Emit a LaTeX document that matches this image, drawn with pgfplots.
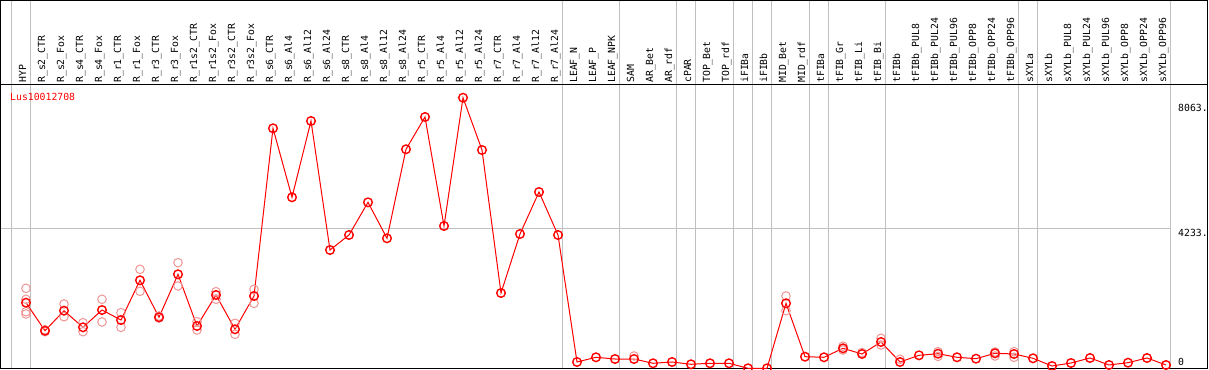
\documentclass[border=0pt]{standalone}
\usepackage{fontspec}
\usepackage{pgfplots}
\usepackage{pgfplotstable}
\pgfplotsset{compat=1.18}
\newfontfamily\plotfont{DejaVu Sans Mono}
\newcommand{\pf}{\plotfont\fontsize{9.8pt}{11pt}\selectfont}
\definecolor{repcol}{RGB}{238,150,150}
\definecolor{sepcol}{RGB}{192,192,192}

\pgfplotstableread{
x y
0 1880
1 992
2 1626
3 1100
4 1648
5 1331
6 2590
7 1417
8 2780
9 1141
10 2124
11 1037
12 2092
13 7408
14 5221
15 7640
16 3550
17 4026
18 5062
19 3921
20 6743
21 7767
22 4311
23 8378
24 6720
25 2187
26 4058
27 5389
28 4026
29 0
30 149
31 95
32 95
33 -41
34 0
35 -73
36 -41
37 -41
38 -200
39 -200
40 1861
41 168
42 149
43 434
44 254
45 634
46 0
47 212
48 263
49 149
50 105
51 276
52 254
53 117
54 -127
55 -32
56 127
57 -95
58 -22
59 127
60 -95
}\meantable

\pgfplotstableread{
x y
0 2336
0 1988
0 1595
0 1522
1 960
1 1020
2 1839
2 1436
3 1246
3 960
4 1988
4 1268
5 1563
5 1100
6 2939
6 2241
7 1458
7 1395
8 3148
8 2409
9 1278
9 1014
10 2229
10 1988
11 1227
11 878
12 2305
12 1861
32 190
40 2092
40 1626
43 500
43 380
44 300
45 751
45 539
46 86
48 327
48 180
51 317
51 190
52 327
52 149
}\reptable

\begin{document}
\begin{tikzpicture}
\begin{axis}[
  scale only axis,
  width=1170pt, height=284pt,
  xmin=-1.3158, xmax=60.263,
  ymin=-221.9, ymax=8780.9,
  clip=false,
  axis line style={draw=none},
  major tick length=0pt,
  tick style={draw=none},
  xtick={0,...,60},
  xticklabels={HYP,R\_s2\_CTR,R\_s2\_Fox,R\_s4\_CTR,R\_s4\_Fox,R\_r1\_CTR,R\_r1\_Fox,R\_r3\_CTR,R\_r3\_Fox,R\_r1s2\_CTR,R\_r1s2\_Fox,R\_r3s2\_CTR,R\_r3s2\_Fox,R\_s6\_CTR,R\_s6\_Al4,R\_s6\_Al12,R\_s6\_Al24,R\_s8\_CTR,R\_s8\_Al4,R\_s8\_Al12,R\_s8\_Al24,R\_r5\_CTR,R\_r5\_Al4,R\_r5\_Al12,R\_r5\_Al24,R\_r7\_CTR,R\_r7\_Al4,R\_r7\_Al12,R\_r7\_Al24,LEAF\_N,LEAF\_P,LEAF\_NPK,SAM,AR\_Bet,AR\_rdf,cPAR,TOP\_Bet,TOP\_rdf,iFIBa,iFIBb,MID\_Bet,MID\_rdf,tFIBa,tFIB\_Gr,tFIB\_Li,tFIB\_Bi,tFIBb,tFIBb\_PUL8,tFIBb\_PUL24,tFIBb\_PUL96,tFIBb\_OPP8,tFIBb\_OPP24,tFIBb\_OPP96,sXYLa,sXYLb,sXYLb\_PUL8,sXYLb\_PUL24,sXYLb\_PUL96,sXYLb\_OPP8,sXYLb\_OPP24,sXYLb\_OPP96},
  xticklabel pos=upper,
  xticklabel shift=2pt,
  xticklabel style={rotate=90, anchor=base west, inner sep=0pt, font=\pf},
  ytick={0,4233,8063},
  yticklabels={0,{\raisebox{-7.6pt}[0pt][0pt]{4233.}},8063.},
  yticklabel pos=upper,
  yticklabel shift=7pt,
  yticklabel style={anchor=west, inner sep=0pt, font=\pf},
]
% separators
\pgfplotsinvokeforeach{-0.75,0.25,28.25,31.25,34.25,35.25,37.25,38.25,39.25,41.25,42.25,45.25,52.25,53.25,60.25}{
  \draw[sepcol, line width=0.9pt] (axis cs:#1,-221.9) -- (axis cs:#1,11459);
}
\draw[sepcol, line width=0.9pt] (axis cs:-1.3158,4233) -- (axis cs:60.263,4233);
% frame and header line
\draw[black, line width=1pt] (rel axis cs:0,0) rectangle (rel axis cs:1.0312,1.29754);
\draw[black, line width=1pt] (rel axis cs:0,1) -- (rel axis cs:1.0312,1);
% title
\node[anchor=west, inner sep=0pt, text=red, font=\pf] at (rel axis cs:0.0077,0.9577) {Lus10012708};
% replicates
\addplot[only marks, mark=o, mark size=4.3pt, mark options={draw=repcol, line width=1pt}] table[x=x,y=y] {\reptable};
% mean
\addplot[red, line width=1pt, mark=o, mark size=4.3pt, mark options={draw=red, line width=1.4pt}] table[x=x,y=y] {\meantable};
\end{axis}
\pgfresetboundingbox
\path ([shift={(-1pt,-1pt)}]current axis.south west) rectangle ([shift={(38pt,85pt)}]current axis.north east);
\end{tikzpicture}
\end{document}
